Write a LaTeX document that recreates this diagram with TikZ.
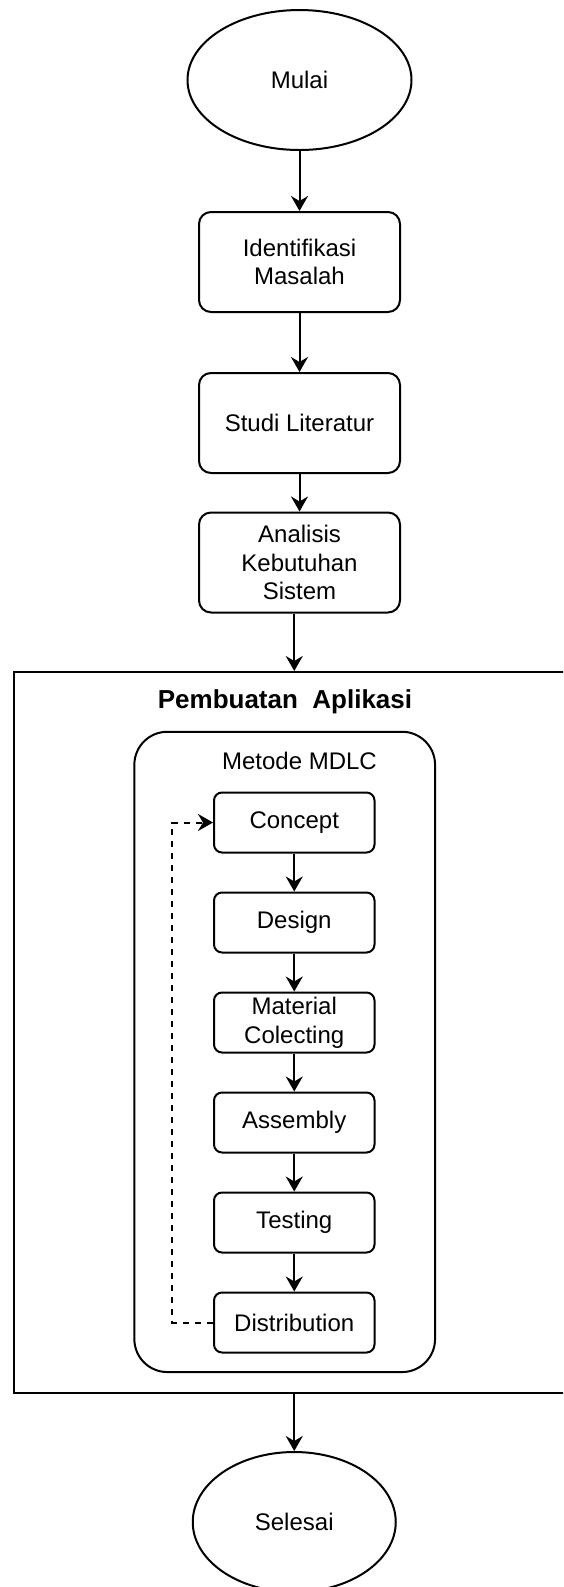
\documentclass[tikz,border=0pt]{standalone}
\usepackage{fontspec}
\setmainfont{Liberation Sans}
\usetikzlibrary{shapes.geometric,arrows.meta}
\begin{document}
\begin{tikzpicture}[x=0.5pt,y=-0.5pt,
  txt/.style={font=\fontsize{12}{14.4}\selectfont, align=center, inner sep=0pt},
  base/.style={txt, draw=black, line width=1pt, fill=white},
  term/.style={base, ellipse},
  proc/.style={base, rounded corners=6pt, minimum width=100.5pt, minimum height=50pt},
  mdlc/.style={base, rounded corners=4pt, minimum width=80.25pt, minimum height=30pt},
  frame/.style={draw=black, line width=1pt, inner sep=0pt},
  arr/.style={line width=1pt, -{Stealth[length=7.5pt,width=8.5pt,inset=2.5pt]}},
  dasharr/.style={arr, dash pattern=on 3pt off 3pt}]

\useasboundingbox (0,0) rectangle (563,1587);
\fill[white] (0,0) rectangle (563,1587);
\clip (0,0) rectangle (563,1587);

% main flow
\node[term, minimum width=112pt, minimum height=70pt] (mulai) at (299.5,80) {Mulai};
\node[proc] (iden) at (299.5,262) {Identifikasi\\Masalah};
\node[proc] (studi) at (299.5,423) {Studi Literatur};
\node[proc] (anal) at (299.5,562.5) {Analisis\\Kebutuhan\\Sistem};

% container
\node[frame, minimum width=281pt, minimum height=360.5pt] (app) at (295,1032.5) {};
\node[txt, font=\bfseries\fontsize{13}{15.6}\selectfont] (apptitle) at (285,702) {Pembuatan\ \ Aplikasi};
\node[frame, rounded corners=16.5pt, minimum width=150.35pt, minimum height=320.15pt] (mdlcbox) at (284.7,1051.9) {};
\node[txt] (mdlctitle) at (299.5,760.5) {Metode MDLC};

% MDLC steps
\node[mdlc] (c1) at (294.25,822.5) {Concept};
\node[mdlc] (c2) at (294.25,922.5) {Design};
\node[mdlc] (c3) at (294.25,1022.5) {Material\\Colecting};
\node[mdlc] (c4) at (294.25,1122.5) {Assembly};
\node[mdlc] (c5) at (294.25,1222.5) {Testing};
\node[mdlc] (c6) at (294.25,1322.5) {Distribution};

\node[term, minimum width=101.5pt, minimum height=70pt] (sel) at (294.25,1522) {Selesai};

% connectors
\draw[arr] (mulai) -- (iden);
\draw[arr] (iden) -- (studi);
\draw[arr] (studi) -- (anal);
\draw[arr] (anal.south -| c1) -- (app.north -| c1);
\draw[arr] (c1) -- (c2);
\draw[arr] (c2) -- (c3);
\draw[arr] (c3) -- (c4);
\draw[arr] (c4) -- (c5);
\draw[arr] (c5) -- (c6);
\draw[dasharr] (c6.west) -- ++(-40.7,0) |- (c1.west);
\draw[arr] (app.south -| sel) -- (sel.north);
\end{tikzpicture}
\end{document}
